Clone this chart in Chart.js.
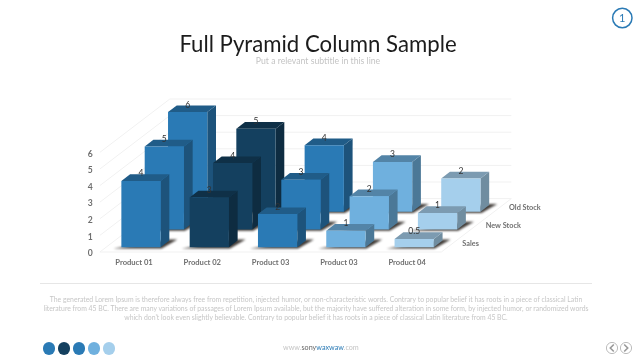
<!DOCTYPE html>
<html>
<head>
<meta charset="utf-8">
<script src="https://cdn.jsdelivr.net/npm/chart.js@4/dist/chart.umd.js"></script>
<style>
html,body{margin:0;padding:0;background:#fff;width:640px;height:360px;overflow:hidden;font-family:Lato,sans-serif}
#c{position:absolute;left:0;top:0}
.t{position:absolute;white-space:nowrap;text-align:center}
#title{left:0;width:636px;top:28px;font-size:22.2px;line-height:32px;color:#1c1c1c}
#sub{left:0;width:636px;top:54px;font-size:8.7px;line-height:14px;color:#c4c4c4}
#rule{position:absolute;left:40px;top:283px;width:552px;height:1px;background:#e6e6e6}
.body{left:0;width:632px;font-size:6.85px;line-height:10px;color:#c6c6c6}
#site{left:283px;top:342px;width:74px;font-size:7.2px;line-height:12px;color:#c4c4c4}
#site b{font-weight:400;color:#666}#site i{font-style:normal;color:#2a7ab5}
.dot{position:absolute;top:342px;width:12.5px;height:12.5px;border-radius:50%}
svg{position:absolute}
</style>
</head>
<body>
<canvas id="c" width="640" height="360"></canvas>
<div class="t" id="title">Full Pyramid Column Sample</div>
<div class="t" id="sub">Put a relevant subtitle in this line</div>
<div id="rule"></div>
<div class="t body" style="top:294px">The generated Lorem Ipsum is therefore always free from repetition, injected humor, or non-characteristic words. Contrary to popular belief it has roots in a piece of classical Latin</div>
<div class="t body" style="top:303px">literature from 45 BC. There are many variations of passages of Lorem Ipsum available, but the majority have suffered alteration in some form, by injected humor, or randomized words</div>
<div class="t body" style="top:312px">which don't look even slightly believable. Contrary to popular belief it has roots in a piece of classical Latin literature from 45 BC.</div>
<div class="t" id="site">www.<b>sony</b><i>waxwaw</i>.com</div>
<div class="dot" style="left:42.7px;background:#2a7ab5"></div>
<div class="dot" style="left:57.7px;background:#14405f"></div>
<div class="dot" style="left:72.7px;background:#2a7ab5"></div>
<div class="dot" style="left:87.7px;background:#6fb0de"></div>
<div class="dot" style="left:102.7px;background:#a5cfec"></div>
<svg style="left:0;top:0" width="640" height="360">
<circle cx="622.3" cy="18" r="9.7" fill="none" stroke="#2a7ab5" stroke-width="1.5"/>
<text x="622.3" y="22" text-anchor="middle" font-family="Lato" font-size="11" fill="#2a7ab5">1</text>
<circle cx="612" cy="348" r="5.6" fill="none" stroke="#bdbdbd"/>
<circle cx="626" cy="348" r="5.6" fill="none" stroke="#bdbdbd"/>
<path d="M613.8 344.5L610.3 348L613.8 351.5" fill="none" stroke="#999" stroke-width="1.6"/>
<path d="M624.2 344.5L627.7 348L624.2 351.5" fill="none" stroke="#999" stroke-width="1.6"/>
</svg>
<script>
const categories = ['Product 01', 'Product 02', 'Product 03', 'Product 03', 'Product 04'];
const seriesNames = ['Sales', 'New Stock', 'Old Stock'];
const sales = [4, 3, 2, 1, 0.5];
const newStock = [5, 4, 3, 2, 1];
const oldStock = [6, 5, 4, 3, 2];
const yTicks = [0, 1, 2, 3, 4, 5, 6];
const columnColors = ['#2a7ab5', '#14405f', '#2a7ab5', '#6fb0de', '#a5cfec'];

const ROW_DX = 23.33, ROW_DY = 17.8, BOX_DX = 8.7, BOX_DY = 6.7, START_DX = 7, START_DY = 4.7;

function shade(hex, f) {
  const n = parseInt(hex.slice(1), 16);
  const c = [n >> 16, (n >> 8) & 255, n & 255].map(v => Math.round(v * f));
  return `rgb(${c[0]},${c[1]},${c[2]})`;
}
function poly(ctx, pts, fill) {
  ctx.beginPath();
  pts.forEach((p, i) => i ? ctx.lineTo(p[0], p[1]) : ctx.moveTo(p[0], p[1]));
  ctx.closePath();
  ctx.fillStyle = fill;
  ctx.fill();
}

class Box3DController extends Chart.BarController {
  draw() {
    const ctx = this.chart.ctx;
    const row = this.index;
    const bars = this.getMeta().data;
    const ox = START_DX + row * ROW_DX, oy = START_DY + row * ROW_DY;
    ctx.save();
    bars.forEach(b => {
      const l = b.x - b.width / 2 + ox, r = b.x + b.width / 2 + ox, bot = b.base - oy;
      ctx.save();
      ctx.filter = 'blur(1px)';
      poly(ctx, [[l - 8, bot + 1.2], [r + 1, bot + 1.2], [r + BOX_DX + 8, bot - BOX_DY - 1], [r + BOX_DX, bot - BOX_DY - 1]], 'rgba(45,40,35,0.9)');
      ctx.restore();
    });
    bars.forEach((b, i) => {
      const col = columnColors[i];
      const l = b.x - b.width / 2 + ox, r = b.x + b.width / 2 + ox, bot = b.base - oy, top = b.y - oy;
      poly(ctx, [[r, top], [r + BOX_DX, top - BOX_DY], [r + BOX_DX, bot - BOX_DY], [r, bot]], shade(col, 0.68));
      poly(ctx, [[l, top], [l + BOX_DX, top - BOX_DY], [r + BOX_DX, top - BOX_DY], [r, top]], shade(col, 0.75));
      poly(ctx, [[l, top], [r, top], [r, bot], [l, bot]], col);
      ctx.font = '8.5px Lato';
      ctx.fillStyle = '#333';
      ctx.textAlign = 'center';
      ctx.textBaseline = 'middle';
      ctx.fillText(String(this.getDataset().data[i]), (l + r) / 2, top - 7.3);
    });
    ctx.restore();
  }
}
Box3DController.id = 'box3d';
Box3DController.defaults = Chart.BarController.defaults;
Box3DController.overrides = Chart.BarController.overrides;
Chart.register(Box3DController);

const wallsPlugin = {
  id: 'walls',
  beforeDatasetsDraw(chart) {
    const { ctx, scales: { x, y } } = chart;
    const dx = ROW_DX * seriesNames.length, dy = ROW_DY * seriesNames.length;
    ctx.save();
    ctx.strokeStyle = '#f1f1f1';
    ctx.lineWidth = 1;
    ctx.beginPath();
    yTicks.forEach(v => {
      const py = y.getPixelForValue(v);
      ctx.moveTo(x.left, py);
      ctx.lineTo(x.left + dx, py - dy);
      ctx.lineTo(x.right + dx, py - dy);
    });
    const y0 = y.getPixelForValue(0);
    ctx.moveTo(x.left, y0); ctx.lineTo(x.right, y0); ctx.lineTo(x.right + dx, y0 - dy);
    ctx.stroke();
    ctx.restore();
  },
  afterDatasetsDraw(chart) {
    const { ctx, scales: { x, y } } = chart;
    const y0 = y.getPixelForValue(0);
    ctx.save();
    ctx.font = 'bold 7.3px Lato';
    ctx.fillStyle = '#6f6f6f';
    ctx.textBaseline = 'middle';
    seriesNames.forEach((n, i) => ctx.fillText(n, x.right + 21 + i * ROW_DX, y0 - 8.7 - i * ROW_DY));
    ctx.restore();
  }
};

const tickFont = { family: 'Lato', size: 7.6, weight: 'bold' };
new Chart(document.getElementById('c'), {
  type: 'box3d',
  data: {
    labels: categories,
    datasets: [
      { label: seriesNames[0], data: sales, clip: false },
      { label: seriesNames[1], data: newStock, clip: false },
      { label: seriesNames[2], data: oldStock, clip: false }
    ]
  },
  options: {
    responsive: false,
    animation: false,
    grouped: false,
    barPercentage: 0.575,
    categoryPercentage: 1,
    layout: { padding: { left: 0, right: 198.65, top: 152.4, bottom: 0 } },
    plugins: { legend: { display: false }, tooltip: { enabled: false } },
    scales: {
      x: {
        grid: { display: false, drawTicks: false, tickLength: 0 }, border: { display: false },
        ticks: { color: '#6f6f6f', font: tickFont, padding: 6, maxRotation: 0 },
        afterFit(s) { s.height = 108; }
      },
      y: {
        min: 0, max: 6,
        grid: { display: false, drawTicks: false, tickLength: 0 }, border: { display: false },
        ticks: { stepSize: 1, color: '#6f6f6f', font: { family: 'Lato', size: 8.6, weight: 'bold' }, padding: 7, labelOffset: 1.5 },
        afterFit(s) { s.width = 99.85; }
      }
    }
  },
  plugins: [wallsPlugin]
});
</script>
</body>
</html>
